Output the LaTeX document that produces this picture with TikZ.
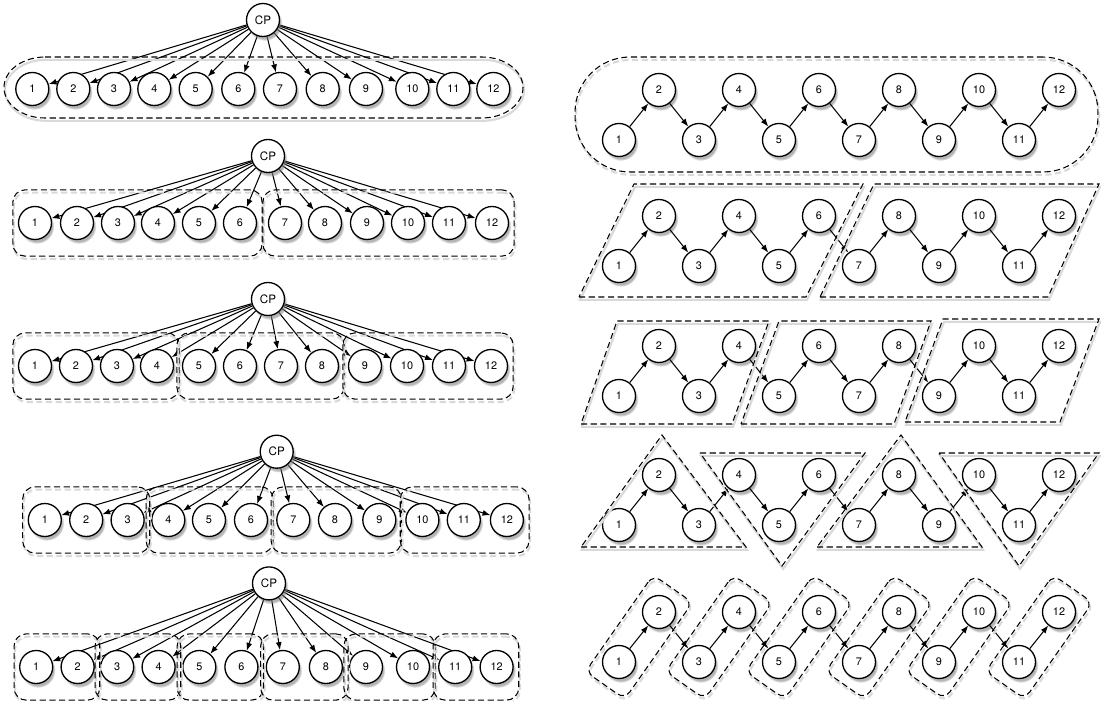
\documentclass[tikz,border=0pt]{standalone}
\usepackage{fontspec}
\setmainfont{TeX Gyre Heros}
\usetikzlibrary{arrows.meta,shadows,fit,calc,backgrounds}
\tikzset{>/.tip={Latex[length=4.5pt,width=3.4pt]},
  task/.style={circle,draw,line width=0.75pt,fill=white,minimum size=0.66cm,inner sep=0pt,
    font=\fontsize{6.2}{7}\selectfont,
    circular drop shadow={shadow xshift=1pt,shadow yshift=-1.8pt,shadow scale=1.06,opacity=0.6}},
  cp/.style={task,font=\fontsize{6.6}{8}\selectfont},
  grp/.style={draw,line width=0.6pt,dash pattern=on 3.5pt off 2pt,
    preaction={draw=black!15,line width=1.2pt,transform canvas={shift={(0.6pt,-1.6pt)}}}},
  grpbox/.style={grp,rounded corners=7pt,inner xsep=0.1cm,inner ysep=0.32cm},
  link/.style={->,line width=0.6pt}}

\begin{document}
\begin{tikzpicture}[x=0.02cm,y=-0.02cm]
\useasboundingbox (0,0) rectangle (1101,700);

% left column: CP and twelve tasks
\node[cp] (cp-1) at (263,20) {CP};
\foreach \x [count=\i] in {32.3,73.3,114,154.3,195.7,238.3,280,322.7,366,412.3,453.3,493.3}
  \node[task] (n1-\i) at (\x,89) {\i};
\node[cp] (cp-2) at (268,156) {CP};
\foreach \x [count=\i] in {35,77,118,158,199,240,285,325,367,408,449,492}
  \node[task] (n2-\i) at (\x,223) {\i};
\node[cp] (cp-3) at (268,299) {CP};
\foreach \x [count=\i] in {35,76,117,157,199,240,281,322,365,407,449,491}
  \node[task] (n3-\i) at (\x,366) {\i};
\node[cp] (cp-4) at (276.7,451.7) {CP};
\foreach \x [count=\i] in {44.8,86.2,127.6,168.3,209,251,293.3,335,379.3,422.4,463.8,506.9}
  \node[task] (n4-\i) at (\x,520) {\i};
\node[cp] (cp-5) at (269,583.4) {CP};
\foreach \x [count=\i] in {36.2,77.6,117.2,158.6,199.3,241.4,282.8,325.9,366,413,455.2,496.6}
  \node[task] (n5-\i) at (\x,667) {\i};

\begin{scope}[on background layer]
\foreach \r in {1,...,5}
  \foreach \i in {1,...,12}
    \path[link] (cp-\r) edge (n\r-\i);
\end{scope}

% left column: groups
\draw[grp] (45,57) -- (482,57) arc[start angle=90,end angle=-90,x radius=0.82cm,y radius=0.61cm]
  -- (45,118) arc[start angle=270,end angle=90,x radius=0.82cm,y radius=0.61cm] -- cycle;
\node[grpbox,fit=(n2-1)(n2-6)] (g2-1) {};
\node[grpbox,fit=(n2-7)(n2-12)] (g2-2) {};
\node[grpbox,fit=(n3-1)(n3-4)] (g3-1) {};
\node[grpbox,fit=(n3-5)(n3-8)] (g3-2) {};
\node[grpbox,fit=(n3-9)(n3-12)] (g3-3) {};
\node[grpbox,fit=(n4-1)(n4-3)] (g4-1) {};
\node[grpbox,fit=(n4-4)(n4-6)] (g4-2) {};
\node[grpbox,fit=(n4-7)(n4-9)] (g4-3) {};
\node[grpbox,fit=(n4-10)(n4-12)] (g4-4) {};
\foreach \a/\b [count=\k] in {1/2,3/4,5/6,7/8,9/10,11/12}
  \node[grpbox,fit=(n5-\a)(n5-\b)] (g5-\k) {};

% right column: zigzag chains
\foreach \r/\hi in {1/90,2/216,3/346,4/475,5/612} {
  \foreach \i in {1,...,12} {
    \pgfmathsetmacro\yy{isodd(\i) ? \hi+50 : \hi}
    \node[task] (z\r-\i) at ({619+40*(\i-1)},\yy) {\i};
  }
  \foreach \i [evaluate=\i as \j using int(\i+1)] in {1,...,11}
    \path[link] (z\r-\i) edge (z\r-\j);
}

% right column: groups
\node[grp,rounded corners=1.1cm,minimum width=10.46cm,minimum height=2.3cm] (s1) at (836.5,114.5) {};
\draw[grp] (579,297) -- (806,297) -- (863,184) -- (634,184) -- cycle;
\draw[grp] (820,297) -- (1048,297) -- (1099,184) -- (874,184) -- cycle;
\draw[grp] (581,424) -- (732,424) -- (769,321) -- (617,321) -- cycle;
\draw[grp] (741,424) -- (894,424) -- (931,321) -- (779,321) -- cycle;
\draw[grp] (905,422) -- (1060,422) -- (1099,319) -- (943,319) -- cycle;
\draw[grp] (581,547) -- (746,547) -- (662,435) -- cycle;
\draw[grp] (700,453) -- (865,453) -- (782,566) -- cycle;
\draw[grp] (817,547) -- (982,547) -- (901,435) -- cycle;
\draw[grp] (939,453) -- (1099,453) -- (1019,566) -- cycle;
\foreach \a/\b [count=\k] in {1/2,3/4,5/6,7/8,9/10,11/12}
  \node[grp,rounded corners=5pt,rotate=55,minimum width=2.36cm,minimum height=0.96cm]
    (p5-\k) at ($(z5-\a)!0.5!(z5-\b)$) {};
\end{tikzpicture}
\end{document}
